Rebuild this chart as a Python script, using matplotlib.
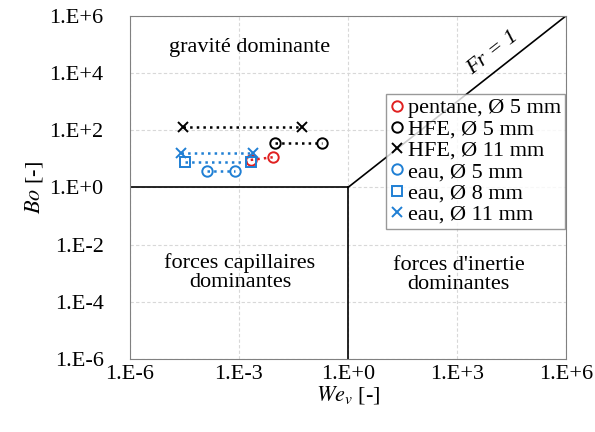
import matplotlib.pyplot as plt
from matplotlib.ticker import FixedLocator, FuncFormatter
import numpy as np

plt.rcParams['font.family'] = ['Liberation Serif', 'DejaVu Serif']
plt.rcParams['mathtext.fontset'] = 'stix'

# Data (We_v, Bo)
pentane_5_we = [2.1e-3, 8.5e-3]
pentane_5_bo = [9.2, 11.4]
hfe_5_we = [1.0e-2, 0.19]
hfe_5_bo = [35, 35]
hfe_11_we = [2.8e-5, 5.5e-2]
hfe_11_bo = [135, 135]
eau_5_we = [1.3e-4, 7.8e-4]
eau_5_bo = [3.8, 3.8]
eau_8_we = [3.2e-5, 2.1e-3]
eau_8_bo = [7.8, 7.8]
eau_11_we = [2.6e-5, 2.45e-3]
eau_11_bo = [16.5, 16.5]

blue = '#1f7fd4'
red = '#e02020'

fig = plt.figure(figsize=(5.95, 4.32), dpi=100)
ax = fig.add_axes([0.2185, 0.169, 0.7325, 0.794])
ax.set_xscale('log')
ax.set_yscale('log')
ax.set_xlim(1e-6, 1e6)
ax.set_ylim(1e-6, 1e6)

# regime boundaries
ax.plot([1e-6, 1], [1, 1], color='black', lw=1.2)
ax.plot([1, 1], [1e-6, 1], color='black', lw=1.2)
ax.plot([1, 1e6], [1, 1e6], color='black', lw=1.2)

series = [
    (pentane_5_we, pentane_5_bo, 'o', red, 'pentane, Ø 5 mm'),
    (hfe_5_we, hfe_5_bo, 'o', 'black', 'HFE, Ø 5 mm'),
    (hfe_11_we, hfe_11_bo, 'x', 'black', 'HFE, Ø 11 mm'),
    (eau_5_we, eau_5_bo, 'o', blue, 'eau, Ø 5 mm'),
    (eau_8_we, eau_8_bo, 's', blue, 'eau, Ø 8 mm'),
    (eau_11_we, eau_11_bo, 'x', blue, 'eau, Ø 11 mm'),
]
handles = []
for we, bo, m, c, lab in series:
    ax.plot(we, bo, color=c, ls=':', lw=1.8, zorder=3)
    h, = ax.plot(we, bo, ls='none', marker=m, ms=7.5, mfc='none', mec=c,
                 mew=1.4, label=lab, zorder=4)
    handles.append(h)

ax.xaxis.set_major_locator(FixedLocator([1e-6, 1e-3, 1, 1e3, 1e6]))
ax.yaxis.set_major_locator(FixedLocator([1e-6, 1e-4, 1e-2, 1, 1e2, 1e4, 1e6]))
ax.xaxis.set_minor_locator(FixedLocator([]))
ax.yaxis.set_minor_locator(FixedLocator([]))
fmt = FuncFormatter(lambda v, p: '1.E%+d' % int(round(np.log10(v))))
ax.xaxis.set_major_formatter(fmt)
ax.yaxis.set_major_formatter(fmt)
ax.tick_params(axis='y', length=0, labelsize=16, pad=19)
ax.tick_params(axis='x', length=0, labelsize=16, pad=4)
ax.grid(True, color='#d8d8d8', ls=(0, (3, 2)), lw=0.8)
ax.set_axisbelow(True)
for s in ax.spines.values():
    s.set_color('#808080')

ax.set_xlabel(r'$We_v$ [-]', fontsize=16, labelpad=0)
ax.set_ylabel(r'$\mathit{Bo}$ [-]', fontsize=16, labelpad=3)

ax.text(2e-3, 8e4, 'gravité dominante', fontsize=16, ha='center', va='center')
ax.text(1.07e-3, 1.1e-3, 'forces capillaires\ndominantes', fontsize=16,
        ha='center', va='center', linespacing=1.0)
ax.text(1.1e3, 8.7e-4, "forces d'inertie\ndominantes", fontsize=16,
        ha='center', va='center', linespacing=1.0)
ax.text(1e4, 5e4, 'Fr = 1', fontsize=16, style='italic', rotation=38,
        ha='center', va='center')

leg = ax.legend(handles=handles, loc='upper right', bbox_to_anchor=(0.998, 0.773),
                fontsize=16, handlelength=0.6, handletextpad=0.2,
                borderpad=0.18, labelspacing=0.03, frameon=True,
                fancybox=False, borderaxespad=0)
leg.get_frame().set_edgecolor('#808080')
leg.get_frame().set_linewidth(1.0)

fig.savefig('out.png', dpi=100)
